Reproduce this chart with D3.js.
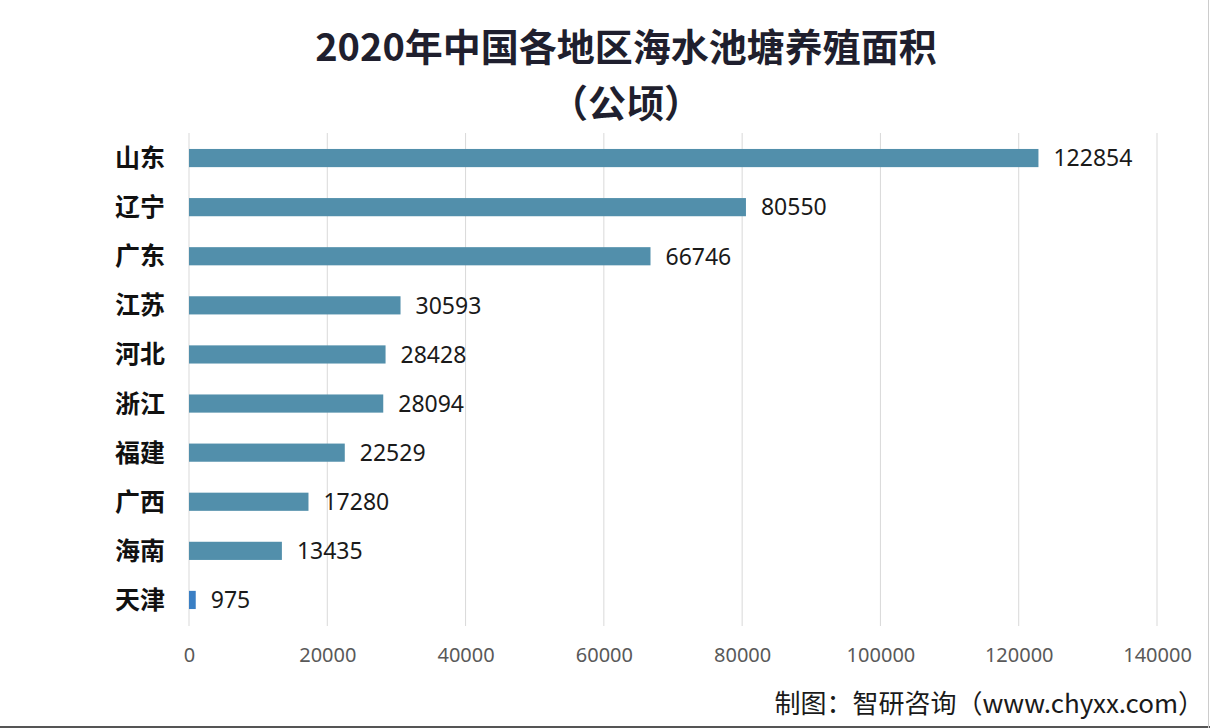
<!DOCTYPE html>
<html><head><meta charset="utf-8">
<script src="https://cdn.jsdelivr.net/npm/d3@7"></script>
<style>
html,body{margin:0;padding:0;background:#fff;}
svg{display:block;}
</style></head>
<body>
<svg id="chart" width="1210" height="728"></svg>
<script>
const categories = ["山东","辽宁","广东","江苏","河北","浙江","福建","广西","海南","天津"];
const values = [122854, 80550, 66746, 30593, 28428, 28094, 22529, 17280, 13435, 975];
const tickValues = [0, 20000, 40000, 60000, 80000, 100000, 120000, 140000];
const titleLines = ["2020年中国各地区海水池塘养殖面积", "（公顷）"];
const sourceText = "制图：智研咨询（www.chyxx.com）";

const svg = d3.select("#chart");
const W = 1210, H = 728;
svg.append("rect").attr("width", W).attr("height", H).attr("fill", "#fff");

const x = d3.scaleLinear().domain([0, 140000]).range([189, 1157]);
const y = d3.scaleBand().domain(categories).range([133.5, 624.5]).paddingInner(0.63).paddingOuter(0.315);

// gridlines
svg.append("g").selectAll("line").data(tickValues).join("line")
  .attr("x1", d => x(d)).attr("x2", d => x(d))
  .attr("y1", 133).attr("y2", 626)
  .attr("stroke", "#d9d9d9").attr("stroke-width", 1);

// x axis labels
const xAxis = d3.axisBottom(x).tickValues(tickValues).tickSize(0).tickPadding(0).tickFormat(d3.format("d"));
const gx = svg.append("g").attr("transform", "translate(0,655)").call(xAxis);
gx.select(".domain").remove();
gx.selectAll("text").attr("font-family", "'Noto Sans', sans-serif").attr("font-size", 20)
  .attr("fill", "#595959").attr("dy", "0.35em");

// bars
svg.append("g").selectAll("rect").data(values).join("rect")
  .attr("x", x(0))
  .attr("y", (d, i) => y(categories[i]))
  .attr("width", d => x(d) - x(0))
  .attr("height", y.bandwidth())
  .attr("fill", (d, i) => categories[i] === "天津" ? "#3a7fc4" : "#528fab");

// value labels
svg.append("g").selectAll("text").data(values).join("text")
  .attr("x", d => x(d) + 15)
  .attr("y", (d, i) => y(categories[i]) + y.bandwidth() / 2)
  .attr("dy", "0.36em")
  .attr("font-family", "'Noto Sans', sans-serif").attr("font-size", 23)
  .attr("fill", "#1a1a1a")
  .text(d => d);

// category labels
const yAxis = d3.axisLeft(y).tickSize(0).tickPadding(0);
const gy = svg.append("g").attr("transform", "translate(165,0)").call(yAxis);
gy.select(".domain").remove();
gy.selectAll("text").attr("font-family", "'Noto Sans CJK SC', sans-serif").attr("font-size", 25)
  .attr("font-weight", "bold").attr("fill", "#111").attr("dy", "0.36em");

// title
svg.append("g").selectAll("text").data(titleLines).join("text")
  .attr("x", 626).attr("y", (d, i) => 61 + i * 56)
  .attr("text-anchor", "middle")
  .attr("font-family", "'Noto Sans CJK SC', sans-serif")
  .attr("font-size", 38).attr("font-weight", "bold").attr("fill", "#1f1f2e")
  .text(d => d);

// source
svg.append("text").attr("x", 1204).attr("y", 713).attr("text-anchor", "end")
  .attr("font-family", "'Noto Sans CJK SC', sans-serif").attr("font-size", 26)
  .attr("fill", "#1a1a1a").text(sourceText);

// frame
svg.append("line").attr("x1", 0).attr("x2", W).attr("y1", 727).attr("y2", 727).attr("stroke", "#555").attr("stroke-width", 2);
svg.append("line").attr("x1", 1208.5).attr("x2", 1208.5).attr("y1", 0).attr("y2", H).attr("stroke", "#ccc").attr("stroke-width", 1);
</script>
</body></html>
